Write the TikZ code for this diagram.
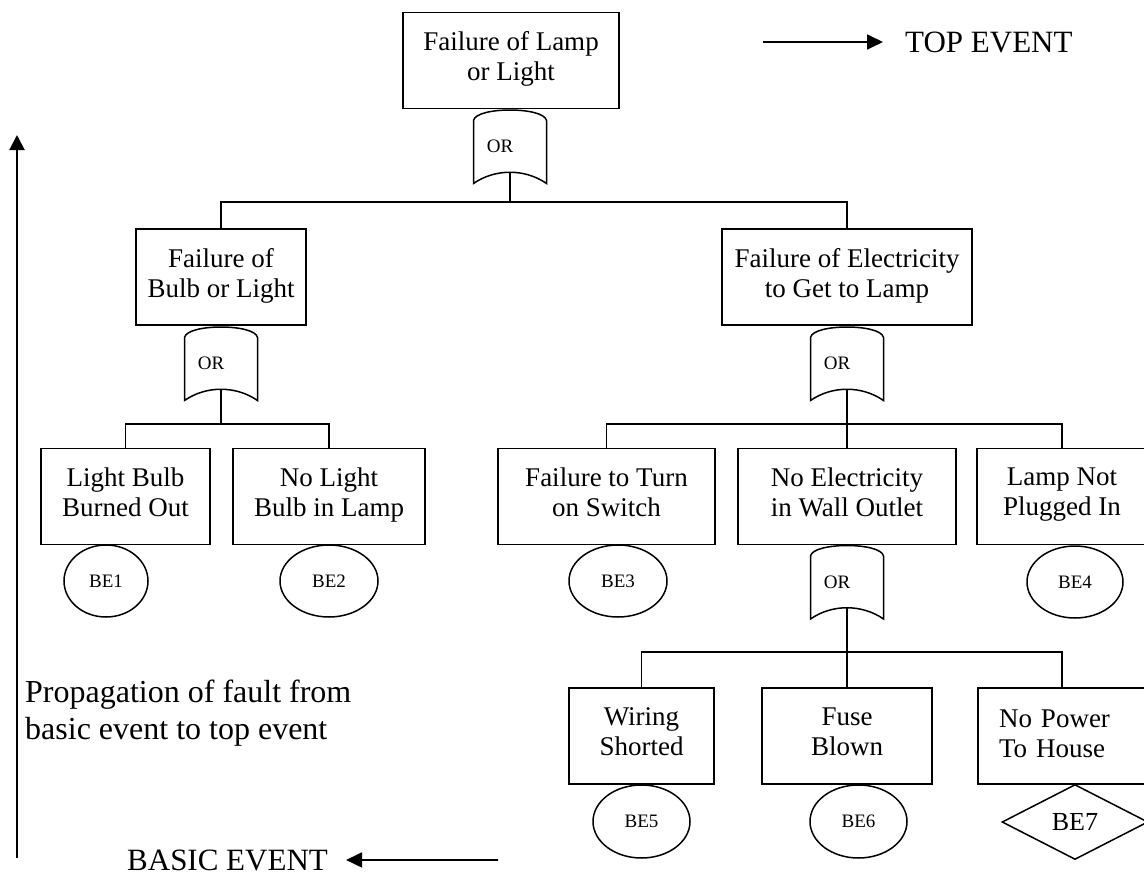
\documentclass[tikz,border=0pt]{standalone}
\usepackage{fontspec}
\setmainfont{Liberation Serif}
\usetikzlibrary{arrows.meta,shapes.geometric}
\begin{document}
\begin{tikzpicture}[x=1pt, y=-1pt,
  event/.style={draw, line width=1.7pt, rectangle, inner sep=0pt, align=center,
    minimum height=96pt, font=\fontsize{27}{30}\selectfont,
    execute at begin node=\strut, execute at end node=\strut},
  basic/.style={draw, line width=1.5pt, ellipse, inner sep=0pt,
    minimum height=72pt, font=\fontsize{19}{22}\selectfont},
  undeveloped/.style={draw, line width=1.5pt, diamond, inner sep=0pt,
    font=\fontsize{26}{30}\selectfont},
  gateline/.style={line width=1.5pt},
  orgate/.style={minimum width=73pt, minimum height=74pt, inner sep=0pt,
    font=\fontsize{19}{22}\selectfont,
    append after command={\pgfextra{
      \begin{scope}[shift={(\tikzlastnode.center)}]
        \draw[gateline] (-36.5,37) -- (-36.5,-26)
          .. controls (-34,-40) and (34,-40) .. (36.5,-26) -- (36.5,37)
          .. controls (15,22) and (-15,22) .. (-36.5,37) -- cycle;
      \end{scope}}}},
  link/.style={line width=1.5pt},
  pointer/.style={line width=1.8pt, -{Triangle[length=16pt,width=15pt]}},
  note/.style={font=\fontsize{31}{37}\selectfont, inner sep=0pt}
]
\fill[white] (0,0) rectangle (1144,878);
\useasboundingbox (0,0) rectangle (1144,878);
\clip (0,0) rectangle (1144,878);

% top event and its gate
\node[event, minimum width=216pt] (top) at (511,60.5) {Failure of Lamp\\or Light};
\node[orgate] (g0) at (510,146.5) {OR\hspace*{20pt}};

% intermediate events
\node[event, minimum width=170pt] (b1) at (221,277) {Failure of\\Bulb or Light};
\node[event, minimum width=250pt] (b2) at (847,277) {Failure of Electricity\\to Get to Lamp};
\node[orgate] (g1) at (221,363.5) {OR\hspace*{20pt}};
\node[orgate] (g2) at (847,363.5) {OR\hspace*{20pt}};

% second level events
\node[event, minimum width=169pt] (c11) at (125.5,496.5) {Light Bulb\\Burned Out};
\node[event, minimum width=192pt] (c12) at (329,496.5) {No Light\\Bulb in Lamp};
\node[event, minimum width=217pt] (c21) at (606.5,496.5) {Failure to Turn\\on Switch};
\node[event, minimum width=218pt] (c22) at (847,496.5) {No Electricity\\in Wall Outlet};
\node[event, minimum width=170pt] (c23) at (1062,496.5) {Lamp Not\\Plugged In};
\node[orgate] (g3) at (847,582) {OR\hspace*{20pt}};

% third level events
\node[event, minimum width=145pt] (d1) at (641.5,736) {Wiring\\Shorted};
\node[event, minimum width=170pt] (d2) at (847,736) {Fuse\\Blown};
\node[event, minimum width=168pt, align=left, text width=126pt] (d3) at (1062,736) {No Power\\To House};

% basic events
\node[basic, minimum width=84pt] (e1) at (106,581) {BE1};
\node[basic, minimum width=98pt] (e2) at (329,581) {BE2};
\node[basic, minimum width=98pt] (e3) at (618,581) {BE3};
\node[basic, minimum width=96pt] (e4) at (1075,582) {BE4};
\node[basic, minimum width=97pt, minimum height=73pt] (e5) at (641.5,821.5) {BE5};
\node[basic, minimum width=97pt, minimum height=73pt] (e6) at (858.5,821.5) {BE6};
\node[undeveloped, minimum width=146pt, minimum height=75pt] (e7) at (1075,822) {BE7};

% junctions of the connector bars
\coordinate (j0) at (510,202);
\coordinate (j1) at (221,424);
\coordinate (j2) at (847,424);
\coordinate (j3) at (847,652);

\draw[link] ([yshift=11pt]g0.south) -- (j0);
\draw[link] (b1.north) |- (j0) -| (b2.north);

\draw[link] ([yshift=11pt]g1.south) -- (j1);
\draw[link] (c11.north) |- (j1) -| (c12.north);

\draw[link] ([yshift=11pt]g2.south) -- (j2);
\draw[link] (c21.north) |- (j2) -| (c23.north);
\draw[link] (j2) -- (c22.north);

\draw[link] ([yshift=11pt]g3.south) -- (j3);
\draw[link] (d1.north) |- (j3) -| (d3.north);
\draw[link] (j3) -- (d2.north);

% legend
\node[note, anchor=west] (topl) at (905,42) {TOP EVENT};
\coordinate (ta) at (763,42);
\draw[pointer] (ta) -- ([xshift=-22pt]topl.west);

\node[note, anchor=base west] (basl) at (127,870) {BASIC EVENT};
\coordinate (ba) at (498,860);
\draw[pointer] (ba) -- ([xshift=18pt]basl.east);

\coordinate (pa) at (17,858);
\coordinate (pb) at (17,135);
\draw[line width=2pt, -{Triangle[length=15pt,width=15pt]}] (pa) -- (pb);

\node[note, anchor=north west, align=left, font=\fontsize{32}{37}\selectfont] (prop) at (25,680)
  {Propagation of fault from\\basic event to top event};
\end{tikzpicture}
\end{document}
